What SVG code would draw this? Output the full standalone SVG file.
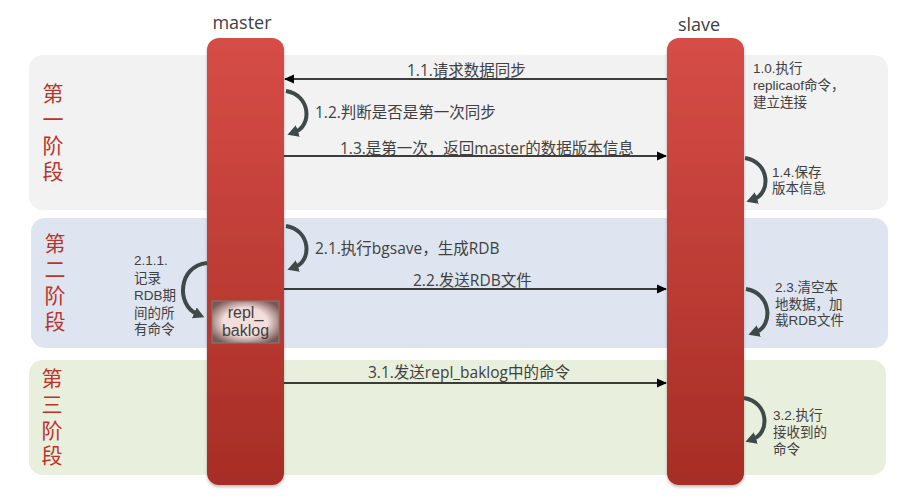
<svg xmlns="http://www.w3.org/2000/svg" width="915" height="500" viewBox="0 0 915 500">
<style>
text{font-family:"Open Sans","Noto Sans CJK SC",sans-serif;fill:#404040}
.hd{font-size:18px;text-anchor:middle}
.ph{font-size:21px;fill:#b9342b;text-anchor:middle;font-family:"Liberation Sans","Noto Sans CJK SC",sans-serif}
.lb{font-size:15.5px}
.sm{font-size:13.5px;font-family:"Liberation Sans","Noto Sans CJK SC",sans-serif}
.bx{font-size:16px;text-anchor:middle;font-family:"Liberation Sans","Noto Sans CJK SC",sans-serif}
.ln{stroke:#000;stroke-width:1.3;fill:none;marker-end:url(#ah)}
.cv{stroke:#3e4a4a;stroke-width:4;fill:none;marker-end:url(#ch)}
</style>
<defs>
<linearGradient id="bar" x1="0" y1="0" x2="0" y2="1">
<stop offset="0" stop-color="#d64d46"/>
<stop offset="1" stop-color="#a62d25"/>
</linearGradient>
<radialGradient id="box" cx="0.5" cy="0.5" r="0.6">
<stop offset="0.55" stop-color="#f3dedc"/>
<stop offset="1" stop-color="#7a5755"/>
</radialGradient>
<filter id="sh" x="-10%" y="-5%" width="120%" height="110%">
<feDropShadow dx="0" dy="2" stdDeviation="1.5" flood-color="#000" flood-opacity="0.25"/>
</filter>
<marker id="ah" markerUnits="userSpaceOnUse" markerWidth="10" markerHeight="10" refX="9" refY="5" orient="auto">
<path d="M0,0.5 L10,5 L0,9.5 z" fill="#000"/>
</marker>
<marker id="ch" markerUnits="userSpaceOnUse" markerWidth="12" markerHeight="12" refX="3" refY="6" orient="auto">
<path d="M0,0 L11,6 L0,12 z" fill="#3e4a4a"/>
</marker>
</defs>

<g id="bands">
<rect x="29" y="55" width="859" height="155" rx="14" fill="#f2f2f2"/>
<rect x="31" y="218" width="857" height="130" rx="14" fill="#dee5f0"/>
<rect x="29" y="360" width="857" height="115" rx="14" fill="#e9efdd"/>
</g>

<g id="phase1">
<text class="ph" x="53" y="101">第<tspan x="53" dy="26">一</tspan><tspan x="53" dy="26">阶</tspan><tspan x="53" dy="26">段</tspan></text>
</g>
<g id="phase2">
<text class="ph" x="55" y="251">第<tspan x="55" dy="26">二</tspan><tspan x="55" dy="26">阶</tspan><tspan x="55" dy="26">段</tspan></text>
</g>
<g id="phase3">
<text class="ph" x="52" y="386">第<tspan x="52" dy="26">三</tspan><tspan x="52" dy="25.5">阶</tspan><tspan x="52" dy="25.5">段</tspan></text>
</g>

<g id="master">
<text class="hd" x="242" y="29">master</text>
<rect x="207" y="38" width="77" height="447" rx="12" fill="url(#bar)" filter="url(#sh)"/>
</g>
<g id="slave">
<text class="hd" x="699" y="31">slave</text>
<rect x="667" y="38" width="77" height="447" rx="12" fill="url(#bar)" filter="url(#sh)"/>
</g>

<g id="repl_baklog">
<rect x="212" y="301" width="67" height="42" fill="url(#box)" stroke="#7f7f7f" stroke-width="1"/>
<text class="bx" x="245.5" y="318">repl_<tspan x="245.5" dy="18">baklog</tspan></text>
</g>

<g id="connectors">
<line class="ln" x1="667" y1="79" x2="285" y2="79"/>
<line class="ln" x1="284" y1="156" x2="666" y2="156"/>
<line class="ln" x1="284" y1="289" x2="666" y2="289"/>
<line class="ln" x1="284" y1="383" x2="666" y2="383"/>
<path class="cv" d="M286,91 C311,95 312,126 295,132"/>
<path class="cv" d="M745,158 C770,162 771,193 754,199"/>
<path class="cv" d="M286,226 C311,230 312,261 295,267"/>
<path class="cv" d="M746,289 C772,293 773,326 756,332"/>
<path class="cv" d="M744,398 C769,402 770,433 753,439"/>
<path class="cv" d="M207,263 C178,266 176,305 197,314"/>
</g>

<g id="labels">
<text class="lb" x="407" y="76">1.1.请求数据同步</text>
<text class="lb" x="315" y="118">1.2.判断是否是第一次同步</text>
<text class="lb" x="340" y="154">1.3.是第一次，返回master的数据版本信息</text>
<text class="lb" x="315" y="254">2.1.执行bgsave，生成RDB</text>
<text class="lb" x="413" y="286">2.2.发送RDB文件</text>
<text class="lb" x="368" y="378">3.1.发送repl_baklog中的命令</text>
<text class="sm" x="753" y="73">1.0.执行<tspan x="753" dy="17">replicaof命令，</tspan><tspan x="753" dy="17">建立连接</tspan></text>
<text class="sm" x="772" y="177">1.4.保存<tspan x="772" dy="16">版本信息</tspan></text>
<text class="sm" x="775" y="292">2.3.清空本<tspan x="775" dy="17">地数据，加</tspan><tspan x="775" dy="16">载RDB文件</tspan></text>
<text class="sm" x="773" y="420">3.2.执行<tspan x="773" dy="17">接收到的</tspan><tspan x="773" dy="17">命令</tspan></text>
<text class="sm" x="134" y="265">2.1.1.<tspan x="134" dy="18">记录</tspan><tspan x="134" dy="17">RDB期</tspan><tspan x="134" dy="18">间的所</tspan><tspan x="134" dy="16">有命令</tspan></text>
</g>
</svg>
